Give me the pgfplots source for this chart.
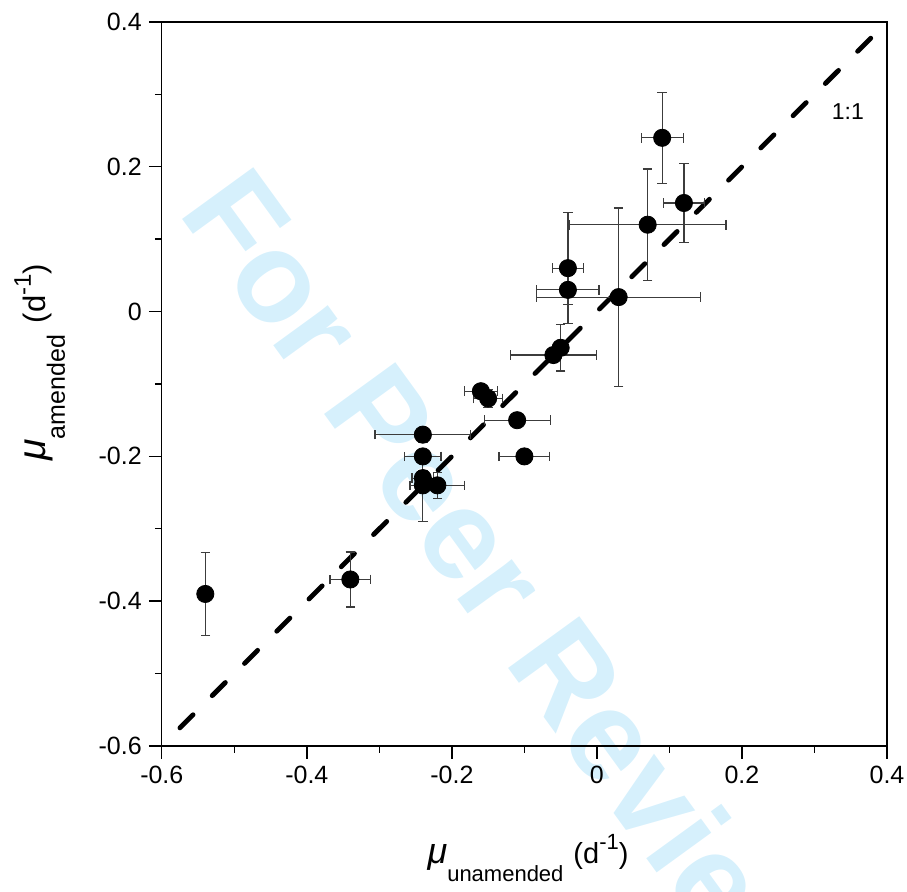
\documentclass[border=0pt]{standalone}
\usepackage{fontspec}
\setmainfont{Liberation Sans}
\usepackage{pgfplots}
\pgfplotsset{compat=1.18}
\usepackage{pgfplotstable}
\definecolor{wm}{RGB}{214,240,252}
\definecolor{ebar}{RGB}{60,60,60}

\newcommand{\mulab}[1]{{\fontsize{18}{18}\selectfont\itshape μ}\raisebox{-9pt}{\fontsize{11}{11}\selectfont #1}\hspace{5pt}{\fontsize{14.5}{14.5}\selectfont (d\raisebox{7pt}{\fontsize{11}{11}\selectfont -1})}}
\newcommand{\mulaby}[1]{{\fontsize{19.5}{19.5}\selectfont\itshape μ}\raisebox{-9.5pt}{\fontsize{12.5}{12.5}\selectfont #1}\hspace{6pt}{\fontsize{15.5}{15.5}\selectfont (d\raisebox{7.5pt}{\fontsize{12}{12}\selectfont -1})}}

\pgfplotstableread{
x      y      ex     ey
-0.54  -0.39  0      0.057
-0.34  -0.37  0.028  0.038
-0.16  -0.11  0.023  0.008
-0.15  -0.12  0.020  0.012
-0.11  -0.15  0.0455 0
-0.24  -0.17  0.066  0.010
-0.10  -0.20  0.035  0.005
-0.24  -0.20  0.025  0.010
-0.24  -0.23  0.015  0.010
-0.24  -0.24  0.018  0.050
-0.22  -0.24  0.037  0.018
0.12   0.15   0.028  0.055
0.07   0.12   0.108  0.077
-0.04  0.06   0.021  0.077
-0.04  0.03   0.043  0.020
0.03   0.02   0.113  0.123
-0.05  -0.05  0      0.032
-0.06  -0.06  0.059  0.010
0.09   0.24   0.029  0.063
}\datatable

\begin{document}
\begin{tikzpicture}
\useasboundingbox (-80.9pt,-73pt) rectangle (372.6pt,373pt);
\node[rotate=-54, anchor=base west, text=wm, font=\fontsize{64}{64}\selectfont\bfseries, inner sep=0pt] at (7.5pt,267pt) {For Peer Review};
\begin{axis}[
  scale only axis, width=362.6pt, height=362pt,
  xmin=-0.6, xmax=0.4, ymin=-0.6, ymax=0.4,
  xtick={-0.6,-0.4,-0.2,0,0.2,0.4},
  ytick={-0.6,-0.4,-0.2,0,0.2,0.4},
  minor xtick={-0.5,-0.3,-0.1,0.1,0.3},
  minor ytick={-0.5,-0.3,-0.1,0.1,0.3},
  tick align=outside, xtick pos=left, ytick pos=left,
  major tick length=6.5pt, minor tick length=3.5pt,
  every tick/.style={line width=0.7pt, black},
  axis line style={line width=0.7pt},
  ticklabel style={font=\fontsize{12.5}{12.5}\selectfont},
  /pgf/number format/assume math mode=true,
  /pgf/number format/fixed,
  /pgf/number format/precision=1,
  xlabel={\mulab{unamended}},
  ylabel={\mulaby{amended}},
  xlabel style={at={(axis description cs:0.505,0)}, anchor=center, yshift=-56pt},
  ylabel style={at={(axis description cs:0,0.53)}, anchor=center, yshift=61pt},
  clip=false,
]
\addplot[black, line width=2.4pt, dash pattern=on 9.3pt off 13.5pt, line cap=round] coordinates {(-0.575,-0.575) (0.378,0.378)};
\addplot[only marks, mark=*, mark size=4.3pt, black,
  error bars/.cd, x dir=both, x explicit, y dir=both, y explicit,
  error bar style={line width=0.6pt, ebar},
  error mark options={rotate=90, mark size=2.4pt, line width=0.6pt, ebar}]
  table[x=x, y=y, x error=ex, y error=ey] {\datatable};
\node[font=\fontsize{11.5}{11.5}\selectfont] at (axis cs:0.346,0.276) {1:1};
\end{axis}
\end{tikzpicture}
\end{document}
